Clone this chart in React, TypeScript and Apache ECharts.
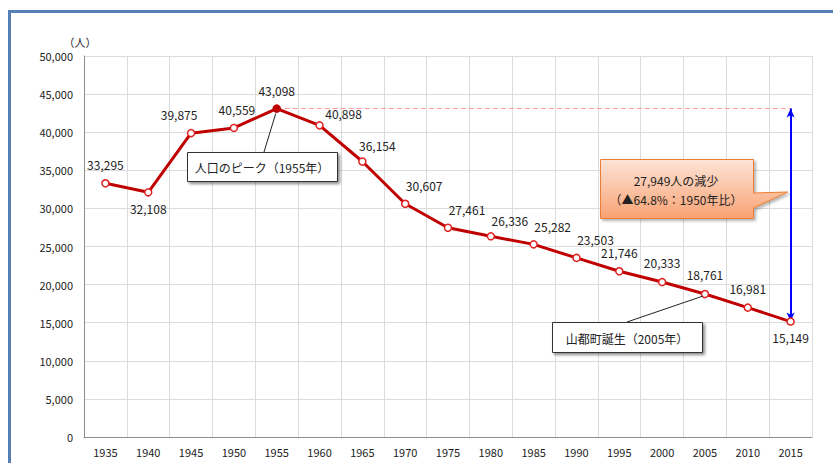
import React, { useEffect, useRef } from "react";
import * as echarts from "echarts";

const years = ["1935","1940","1945","1950","1955","1960","1965","1970","1975","1980","1985","1990","1995","2000","2005","2010","2015"];
const population = [33295,32108,39875,40559,43098,40898,36154,30607,27461,26336,25282,23503,21746,20333,18761,16981,15149];
const yTicks = { min: 0, max: 50000, interval: 5000 };
const peakYear = "1955";
const mergeYear = "2005";
const lastYear = "2015";
const peakNote = "人口のピーク（1955年）";
const mergeNote = "山都町誕生（2005年）";
const declineLines = ["27,949人の減少", "（▲64.8%：1950年比）"];
const unitLabel = "（人）";

const FONT = "'Noto Sans CJK JP', 'Noto Sans', sans-serif";

// label placement per year (style config)
const labelPlacement: Record<string, { pos: string; off: [number, number] }> = {
  "1935": { pos: "top", off: [0, -3] },
  "1940": { pos: "bottom", off: [0, 0] },
  "1945": { pos: "top", off: [-12, -2] },
  "1950": { pos: "top", off: [3, -2] },
  "1955": { pos: "top", off: [0, -2] },
  "1960": { pos: "top", off: [24, 4] },
  "1965": { pos: "top", off: [15, 0] },
  "1970": { pos: "top", off: [19, -2] },
  "1975": { pos: "top", off: [19, -2] },
  "1980": { pos: "top", off: [19, 0] },
  "1985": { pos: "top", off: [19, -2] },
  "1990": { pos: "top", off: [19, -2] },
  "1995": { pos: "top", off: [0, -3] },
  "2000": { pos: "top", off: [0, -3] },
  "2005": { pos: "top", off: [0, -3] },
  "2010": { pos: "top", off: [0, -3] },
  "2015": { pos: "bottom", off: [0, 0] },
};

export default function App() {
  const ref = useRef<HTMLDivElement>(null);
  useEffect(() => {
    document.body.style.margin = "0";
    const chart = echarts.init(ref.current!, null, { renderer: "svg" });
    const peakVal = population[years.indexOf(peakYear)];
    const lastVal = population[years.indexOf(lastYear)];
    const data = years.map((y, i) => {
      const lp = labelPlacement[y];
      const item: any = {
        value: population[i],
        label: { position: lp.pos, offset: lp.off },
      };
      if (y === peakYear) item.itemStyle = { color: "#c00000", borderColor: "#c00000" };
      return item;
    });
    chart.setOption({
      animation: false,
      grid: { left: 84, right: 21, top: 56, bottom: 26, containLabel: false },
      xAxis: {
        type: "category",
        data: years,
        boundaryGap: true,
        axisLine: { lineStyle: { color: "#8c8c8c", width: 1 } },
        axisTick: { show: false },
        axisLabel: { color: "#222", fontSize: 11, fontFamily: FONT, margin: 9 },
        splitLine: { show: true, lineStyle: { color: "#dcdcdc", width: 1 } },
      },
      yAxis: {
        type: "value",
        min: yTicks.min,
        max: yTicks.max,
        interval: yTicks.interval,
        axisLine: { show: true, lineStyle: { color: "#8c8c8c", width: 1 } },
        axisTick: { show: false },
        axisLabel: {
          color: "#222",
          fontSize: 11,
          fontFamily: FONT,
          margin: 11,
          formatter: (v: number) => v.toLocaleString("en-US"),
        },
        splitLine: { show: true, lineStyle: { color: "#dcdcdc", width: 1 } },
      },
      series: [
        {
          type: "line",
          data,
          lineStyle: { color: "#c00000", width: 3 },
          symbol: "circle",
          symbolSize: 7,
          itemStyle: { color: "#ffffff", borderColor: "#e02020", borderWidth: 1.5 },
          label: {
            show: true,
            color: "#222",
            fontSize: 12,
            fontFamily: FONT,
            distance: 6,
            formatter: (p: any) => Number(p.value).toLocaleString("en-US"),
          },
          z: 5,
          markLine: {
            silent: true,
            animation: false,
            label: { show: false },
            data: [
              [
                { coord: [peakYear, peakVal], symbol: "none", lineStyle: { color: "#ff9999", type: [5, 3], width: 1.2 } },
                { coord: [lastYear, peakVal], symbol: "none" },
              ],
              [
                { coord: [lastYear, peakVal], symbol: "arrow", symbolSize: [6, 9], lineStyle: { color: "#0000ff", type: "solid", width: 2 } },
                { coord: [lastYear, lastVal], symbol: "arrow", symbolSize: [6, 9] },
              ],
            ],
          },
        },
      ],
    });

    const peakPx = chart.convertToPixel({ gridIndex: 0 }, [peakYear, peakVal]) as number[];
    const mergePx = chart.convertToPixel({ gridIndex: 0 }, [mergeYear, population[years.indexOf(mergeYear)]]) as number[];
    const lastPx = chart.convertToPixel({ gridIndex: 0 }, [lastYear, lastVal]) as number[];

    const boxStyle = {
      fill: "#ffffff",
      stroke: "#333",
      lineWidth: 1,
      shadowBlur: 3,
      shadowOffsetX: 2,
      shadowOffsetY: 2,
      shadowColor: "rgba(0,0,0,0.45)",
    };
    const tipX = lastPx[0] - 3;
    chart.setOption({
      graphic: [
        {
          type: "rect",
          shape: { x: 9.5, y: 11.5, width: 900, height: 600 },
          style: { fill: "none", stroke: "#5580b5", lineWidth: 3 },
          silent: true,
          z: 0,
        },
        {
          type: "text",
          x: 80,
          y: 42,
          style: { text: unitLabel, fontSize: 11, fontFamily: FONT, fill: "#222", align: "center", verticalAlign: "middle" },
        },
        // peak note
        {
          type: "line",
          shape: { x1: 264, y1: 152, x2: peakPx[0] - 1, y2: peakPx[1] + 5 },
          style: { stroke: "#222", lineWidth: 1 },
          z: 10,
        },
        {
          type: "rect",
          shape: { x: 187.5, y: 152.5, width: 150, height: 29 },
          style: boxStyle,
          z: 10,
        },
        {
          type: "text",
          x: 262,
          y: 167,
          style: { text: peakNote, fontSize: 12, fontFamily: FONT, fill: "#222", align: "center", verticalAlign: "middle" },
          z: 11,
        },
        // merge note
        {
          type: "line",
          shape: { x1: 627, y1: 322, x2: mergePx[0] - 2, y2: mergePx[1] + 2 },
          style: { stroke: "#222", lineWidth: 1 },
          z: 10,
        },
        {
          type: "rect",
          shape: { x: 552.5, y: 322.5, width: 150, height: 30 },
          style: boxStyle,
          z: 10,
        },
        {
          type: "text",
          x: 627,
          y: 338,
          style: { text: mergeNote, fontSize: 12, fontFamily: FONT, fill: "#222", align: "center", verticalAlign: "middle" },
          z: 11,
        },
        // decline callout
        {
          type: "polygon",
          shape: {
            points: [
              [600.5, 159.5], [753.5, 159.5], [753.5, 193], [tipX, 192], [753.5, 208], [753.5, 218.5], [600.5, 218.5],
            ],
          },
          style: {
            fill: new echarts.graphic.LinearGradient(0, 0, 0, 1, [
              { offset: 0, color: "#fde4d8" },
              { offset: 1, color: "#f8a272" },
            ]),
            stroke: "#ed7d31",
            lineWidth: 1,
            shadowBlur: 3,
            shadowOffsetX: 2,
            shadowOffsetY: 2,
            shadowColor: "rgba(0,0,0,0.3)",
          },
          z: 10,
        },
        {
          type: "text",
          x: 676,
          y: 180,
          style: { text: declineLines[0], fontSize: 12, fontFamily: FONT, fill: "#222", align: "center", verticalAlign: "middle" },
          z: 11,
        },
        {
          type: "text",
          x: 676,
          y: 199,
          style: { text: declineLines[1], fontSize: 12, fontFamily: FONT, fill: "#222", align: "center", verticalAlign: "middle" },
          z: 11,
        },
      ],
    });
    return () => chart.dispose();
  }, []);
  return <div ref={ref} style={{ width: 833, height: 463 }} />;
}
